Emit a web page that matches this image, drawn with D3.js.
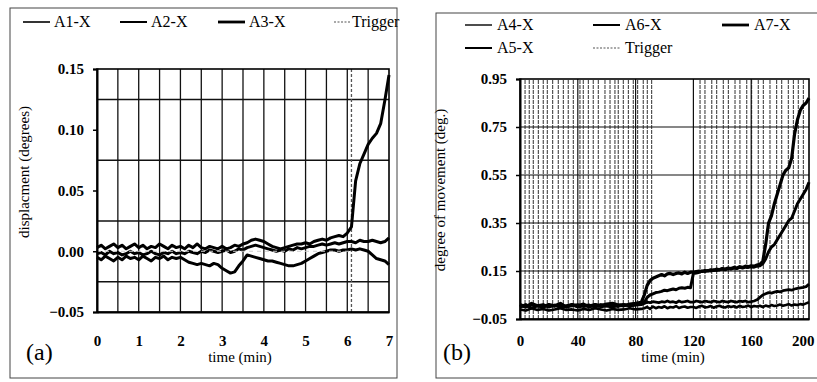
<!DOCTYPE html>
<html><head><meta charset="utf-8">
<script src="https://cdn.jsdelivr.net/npm/d3@7"></script>
<style>body{margin:0;background:#fff}svg{display:block}svg text{font-family:"Liberation Serif","Times New Roman",serif;}</style>
</head><body>
<svg id="c" width="817" height="382"></svg>
<script>
// ---------- Panel (a) data ----------
const tA = d3.range(0, 71).map(i => i / 10);           // time (min)
const A1 = [0.003,0.005,0.002,0.004,0.006,0.003,0.005,0.002,0.004,0.006,
            0.003,0.005,0.002,0.004,0.003,0.006,0.004,0.002,0.005,0.003,
            0.004,0.002,0.005,0.003,0.006,0.003,0.002,0.004,0.003,0.002,
            0.004,0.002,0.003,0.005,0.004,0.006,0.007,0.009,0.010,0.009,
            0.008,0.006,0.004,0.003,0.002,0.003,0.004,0.005,0.006,0.006,
            0.007,0.006,0.008,0.009,0.010,0.009,0.011,0.012,0.013,0.012,
            0.015,0.020,0.058,0.072,0.080,0.088,0.093,0.097,0.105,0.124,
            0.145];
const A2 = [-0.002,-0.001,-0.003,0.000,-0.002,-0.001,-0.003,-0.002,0.000,-0.002,
            -0.001,-0.003,-0.002,0.000,-0.002,-0.003,-0.001,-0.002,0.000,-0.002,
            -0.001,-0.002,0.000,-0.001,-0.002,0.000,-0.001,0.001,0.000,-0.001,
            0.000,0.001,-0.001,0.000,0.002,0.001,0.003,0.004,0.005,0.004,
            0.003,0.002,0.001,0.000,0.001,0.000,0.002,0.001,0.003,0.002,
            0.003,0.004,0.004,0.005,0.006,0.005,0.006,0.007,0.006,0.007,
            0.008,0.008,0.007,0.009,0.008,0.008,0.009,0.008,0.007,0.008,
            0.011];
const A3 = [-0.005,-0.007,-0.004,-0.006,-0.008,-0.005,-0.007,-0.004,-0.006,-0.005,
            -0.007,-0.004,-0.006,-0.008,-0.005,-0.006,-0.004,-0.007,-0.005,-0.006,
            -0.005,-0.007,-0.009,-0.010,-0.011,-0.010,-0.011,-0.012,-0.010,-0.011,
            -0.014,-0.016,-0.018,-0.017,-0.012,-0.008,-0.003,-0.004,-0.005,-0.006,
            -0.007,-0.008,-0.008,-0.009,-0.010,-0.011,-0.012,-0.012,-0.011,-0.010,
            -0.008,-0.006,-0.004,-0.002,-0.001,0.000,0.001,0.001,0.000,0.001,
            0.001,0.002,0.001,0.002,0.001,0.000,-0.003,-0.006,-0.007,-0.008,
            -0.011];
const triggerA = [6.1];
const xTicksA = [0,1,2,3,4,5,6,7];
const yTicksA = [-0.05,0.00,0.05,0.10,0.15];

// ---------- Panel (b) data ----------
const tB = d3.range(0, 85, 4).concat(d3.range(86, 201, 2));
const A4 = [-0.01,-0.015,-0.005,-0.012,-0.008,-0.015,-0.01,-0.005,-0.012,-0.01,-0.015,-0.008,-0.012,-0.005,-0.01,-0.015,-0.008,-0.012,-0.01,-0.005,-0.01,-0.008,
  -0.005,0.0,-0.008,0.002,-0.005,0.0,-0.003,0.003,-0.005,0.0,-0.002,0.004,-0.004,0.0,0.002,-0.003,0.0,
  0.0,-0.004,0.002,0.005,-0.002,0.0,0.004,-0.003,0.002,0.005,0.0,-0.002,0.004,0.0,0.003,-0.002,0.005,0.0,0.002,0.006,0.0,0.004,0.002,
  0.005,0.0,0.006,0.002,0.008,0.004,0.006,0.01,0.005,0.008,0.012,0.006,0.01,0.008,0.012,0.01,0.015,0.02];
const A5 = [0.005,0.0,0.01,0.005,0.0,0.008,0.003,0.01,0.0,0.005,0.01,0.002,0.006,0.01,0.0,0.005,0.008,0.002,0.01,0.005,0.008,0.01,
  0.015,0.02,0.018,0.022,0.02,0.018,0.022,0.02,0.025,0.02,0.022,0.018,0.025,0.02,0.022,0.025,0.02,
  0.02,0.025,0.022,0.02,0.025,0.022,0.02,0.025,0.022,0.02,0.025,0.022,0.02,0.025,0.022,0.02,0.025,0.022,0.025,0.02,0.022,0.025,0.03,
  0.04,0.05,0.055,0.06,0.058,0.062,0.065,0.063,0.068,0.07,0.072,0.07,0.075,0.078,0.08,0.082,0.085,0.095];
const A6 = [0.0,0.01,-0.005,0.005,0.01,0.0,0.008,-0.002,0.005,0.01,0.0,0.005,0.008,0.0,0.01,0.004,0.0,0.008,0.01,0.005,0.01,0.015,
  0.02,0.04,0.05,0.055,0.06,0.062,0.065,0.07,0.068,0.072,0.075,0.072,0.078,0.08,0.078,0.082,0.08,
  0.14,0.142,0.145,0.15,0.148,0.152,0.15,0.155,0.152,0.155,0.158,0.155,0.16,0.158,0.162,0.16,0.165,0.162,0.166,0.165,0.168,0.166,0.17,
  0.172,0.18,0.2,0.23,0.25,0.26,0.28,0.3,0.32,0.34,0.36,0.37,0.4,0.43,0.45,0.47,0.49,0.52];
const A7 = [0.01,0.0,0.015,0.005,0.0,0.01,0.005,0.015,0.0,0.01,0.005,0.012,0.0,0.01,0.006,0.012,0.015,0.008,0.005,0.012,0.015,0.02,
  0.05,0.09,0.11,0.12,0.125,0.13,0.135,0.13,0.138,0.14,0.135,0.14,0.142,0.138,0.145,0.14,0.145,
  0.145,0.148,0.15,0.148,0.152,0.15,0.155,0.152,0.158,0.155,0.16,0.158,0.162,0.16,0.165,0.162,0.168,0.165,0.17,0.168,0.172,0.17,0.175,
  0.178,0.19,0.26,0.35,0.38,0.43,0.47,0.51,0.55,0.57,0.58,0.62,0.72,0.78,0.82,0.84,0.85,0.87];
const triggerB = [3.5,6.4,9.2,12.7,16.1,18.9,22.6,26.5,30.0,33.4,36.9,41.5,43.8,47.3,50.7,54.2,58.8,62.3,65.7,68.0,71.5,75.0,78.4,81.4,85.3,88.1,91.1,
  124.6,128.0,132.7,136.1,140.7,144.2,148.8,152.2,156.9,160.3,164.9,168.4,173.0,177.6,181.1,185.7,189.2,192.6,196.1];
const xTicksB = [0,40,80,120,160,200];
const yTicksB = [-0.05,0.15,0.35,0.55,0.75,0.95];

const FONT = "Liberation Serif, Times New Roman, serif";
const svg = d3.select("#c");
svg.append("rect").attr("width",817).attr("height",382).attr("fill","#fff");

function styleText(sel, size, weight){
  sel.style("font-family",FONT).style("font-size",size+"px").style("font-weight",weight||"normal").attr("fill","#000");
  return sel;
}

// ===== Panel (a) =====
svg.append("rect").attr("x",10).attr("y",8).attr("width",387).attr("height",370)
  .attr("fill","none").attr("stroke","#444").attr("stroke-width",1);
const xA = d3.scaleLinear().domain([0,7]).range([97,389]);
const yA = d3.scaleLinear().domain([-0.05,0.15]).range([312,69]);
const gA = svg.append("g");
gA.selectAll(".vg").data(d3.range(1,14).map(i=>i*0.5)).join("line")
  .attr("x1",d=>xA(d)).attr("x2",d=>xA(d)).attr("y1",yA(-0.05)).attr("y2",yA(0.15))
  .attr("stroke","#111").attr("stroke-width",1.3);
gA.selectAll(".hg").data([-0.025,0.025,0.075,0.125]).join("line")
  .attr("x1",xA(0)).attr("x2",xA(7)).attr("y1",d=>yA(d)).attr("y2",d=>yA(d))
  .attr("stroke","#111").attr("stroke-width",1.5);
gA.selectAll(".tr").data(triggerA).join("line")
  .attr("x1",d=>xA(d)).attr("x2",d=>xA(d)).attr("y1",yA(-0.05)).attr("y2",yA(0.15))
  .attr("stroke","#555").attr("stroke-width",1.3).attr("stroke-dasharray","3,2");
const lineA = vals => d3.line().x((d,i)=>xA(tA[i])).y(d=>yA(d))(vals);
[[A3,3],[A2,3],[A1,3]].forEach(([v,w])=>{
  gA.append("path").attr("d",lineA(v)).attr("fill","none").attr("stroke","#000")
    .attr("stroke-width",w).attr("stroke-linejoin","round");
});
gA.append("line").attr("x1",xA(0)).attr("x2",xA(6.1)).attr("y1",yA(0)).attr("y2",yA(0))
  .attr("stroke","#ccc").attr("stroke-width",1).attr("stroke-dasharray","4,4");
gA.append("rect").attr("x",xA(0)).attr("y",yA(0.15)).attr("width",xA(7)-xA(0)).attr("height",yA(-0.05)-yA(0.15))
  .attr("fill","none").attr("stroke","#000").attr("stroke-width",1.6);
const axYA = svg.append("g").attr("transform",`translate(${xA(0)},0)`)
  .call(d3.axisLeft(yA).tickValues(yTicksA).tickFormat(d3.format(".2f")).tickSize(4).tickPadding(9));
const axXA = svg.append("g").attr("transform",`translate(0,${yA(-0.05)})`)
  .call(d3.axisBottom(xA).tickValues(xTicksA).tickFormat(d3.format("d")).tickSize(0).tickPadding(23));
[axYA,axXA].forEach(a=>{a.select(".domain").attr("stroke","#000").attr("stroke-width",2);
  styleText(a.selectAll("text"),15,"bold");
  a.selectAll("line").attr("stroke","#000").attr("stroke-width",1.5);});
styleText(svg.append("text").attr("transform",`translate(29,172) rotate(-90)`).attr("text-anchor","middle"),15)
  .text("displacment (degrees)");
styleText(svg.append("text").attr("x",240).attr("y",362).attr("text-anchor","middle"),15).text("time (min)");
styleText(svg.append("text").attr("x",26).attr("y",360),24).text("(a)");
const legA = [{n:"A1-X",x:23,w:1.6},{n:"A2-X",x:120,w:2},{n:"A3-X",x:218,w:2.8}];
legA.forEach(l=>{
  svg.append("line").attr("x1",l.x).attr("x2",l.x+27).attr("y1",22).attr("y2",22).attr("stroke","#000").attr("stroke-width",l.w);
  styleText(svg.append("text").attr("x",l.x+31).attr("y",27),16).text(l.n);
});
svg.append("line").attr("x1",334).attr("x2",350).attr("y1",22).attr("y2",22).attr("stroke","#555").attr("stroke-width",1.2).attr("stroke-dasharray","2,1.5");
styleText(svg.append("text").attr("x",352).attr("y",27),16).text("Trigger");

// ===== Panel (b) =====
svg.append("rect").attr("x",436).attr("y",13).attr("width",420).attr("height",365)
  .attr("fill","none").attr("stroke","#444").attr("stroke-width",1);
const xB = d3.scaleLinear().domain([0,200]).range([520,809]);
const yB = d3.scaleLinear().domain([-0.05,0.95]).range([319,79]);
const gB = svg.append("g");
gB.selectAll(".tr").data(triggerB).join("line")
  .attr("x1",d=>xB(d)).attr("x2",d=>xB(d)).attr("y1",yB(-0.05)).attr("y2",yB(0.95))
  .attr("stroke","#444").attr("stroke-width",1.1).attr("stroke-dasharray","4,1");
gB.selectAll(".vg").data([40,80,120,160]).join("line")
  .attr("x1",d=>xB(d)).attr("x2",d=>xB(d)).attr("y1",yB(-0.05)).attr("y2",yB(0.95))
  .attr("stroke","#111").attr("stroke-width",1.2);
gB.selectAll(".hg").data([0.15,0.35,0.55,0.75]).join("line")
  .attr("x1",xB(0)).attr("x2",xB(200)).attr("y1",d=>yB(d)).attr("y2",d=>yB(d))
  .attr("stroke","#111").attr("stroke-width",1.2);
const lineB = vals => d3.line().x((d,i)=>xB(tB[i])).y(d=>yB(d))(vals);
[[A4,2.6],[A5,2.8],[A6,3],[A7,3.2]].forEach(([v,w])=>{
  gB.append("path").attr("d",lineB(v)).attr("fill","none").attr("stroke","#000")
    .attr("stroke-width",w).attr("stroke-linejoin","round");
});
gB.append("rect").attr("x",xB(0)).attr("y",yB(0.95)).attr("width",xB(200)-xB(0)).attr("height",yB(-0.05)-yB(0.95))
  .attr("fill","none").attr("stroke","#000").attr("stroke-width",1.6);
const axYB = svg.append("g").attr("transform",`translate(${xB(0)},0)`)
  .call(d3.axisLeft(yB).tickValues(yTicksB).tickFormat(d3.format(".2f")).tickSize(4).tickPadding(9));
const axXB = svg.append("g").attr("transform",`translate(0,${yB(-0.05)})`)
  .call(d3.axisBottom(xB).tickValues(xTicksB).tickFormat(d3.format("d")).tickSize(0).tickPadding(16));
[axYB,axXB].forEach(a=>{a.select(".domain").attr("stroke","#000").attr("stroke-width",2);
  styleText(a.selectAll("text"),15,"bold");
  a.selectAll("line").attr("stroke","#000").attr("stroke-width",1.5);});
// keep the last x label inside the page
axXB.selectAll(".tick text").filter(d=>d===200).attr("text-anchor","end").attr("dx","5");
styleText(svg.append("text").attr("transform",`translate(445,190) rotate(-90)`).attr("text-anchor","middle"),15)
  .text("degree of movement (deg.)");
styleText(svg.append("text").attr("x",673).attr("y",362).attr("text-anchor","middle"),15).text("time (min)");
styleText(svg.append("text").attr("x",443).attr("y",360),24).text("(b)");
const legB = [{n:"A4-X",x:465,y:25,w:1.4},{n:"A6-X",x:593,y:25,w:2},{n:"A7-X",x:722,y:25,w:2.8},{n:"A5-X",x:465,y:48,w:2}];
legB.forEach(l=>{
  svg.append("line").attr("x1",l.x).attr("x2",l.x+27).attr("y1",l.y).attr("y2",l.y).attr("stroke","#000").attr("stroke-width",l.w);
  styleText(svg.append("text").attr("x",l.x+32).attr("y",l.y+5),16).text(l.n);
});
svg.append("line").attr("x1",593).attr("x2",620).attr("y1",48).attr("y2",48).attr("stroke","#555").attr("stroke-width",1.2).attr("stroke-dasharray","2,1.5");
styleText(svg.append("text").attr("x",625).attr("y",53),16).text("Trigger");
</script>
</body></html>
